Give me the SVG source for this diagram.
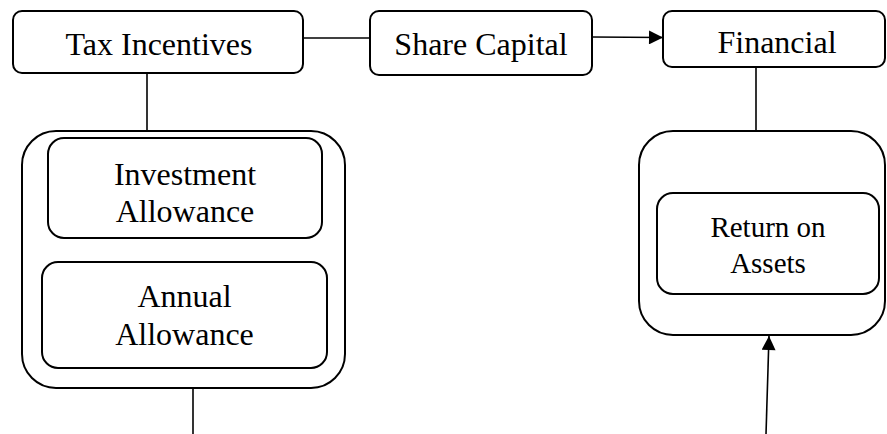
<svg xmlns="http://www.w3.org/2000/svg" width="887" height="434" viewBox="0 0 887 434">
<style>
.box{fill:#fff;stroke:#000;stroke-width:2}
.t{font-family:"Liberation Serif","Times New Roman",serif;font-size:32px;fill:#000;text-anchor:middle}
.s{font-size:29px}
.c{stroke:#000;stroke-width:1.6;fill:none}
</style>
<defs>
<marker id="ah2" viewBox="0 0 10 10" refX="10" refY="5" markerWidth="16" markerHeight="14" markerUnits="userSpaceOnUse" orient="auto">
<path d="M0,0 L10,5 L0,10 z" fill="#000"/>
</marker>
</defs>
<g id="connectors">
<line class="c" x1="303" y1="38" x2="370" y2="38"/>
<line class="c" x1="592" y1="37" x2="663" y2="37.5" marker-end="url(#ah2)"/>
<line class="c" x1="147" y1="73" x2="147" y2="131"/>
<line class="c" x1="756" y1="67" x2="756" y2="131"/>
<line class="c" x1="193" y1="388" x2="193" y2="434"/>
<line class="c" x1="766" y1="434" x2="769" y2="336" marker-end="url(#ah2)"/>
</g>
<g id="tax-incentives">
<rect class="box" x="13" y="11" width="290" height="62" rx="9"/>
<text class="t" x="159" y="55">Tax Incentives</text>
</g>
<g id="share-capital">
<rect class="box" x="370" y="11" width="222" height="64" rx="9"/>
<text class="t" x="481" y="55">Share Capital</text>
</g>
<g id="financial">
<rect class="box" x="663" y="11" width="222" height="56" rx="9"/>
<text class="t" x="777" y="53">Financial</text>
</g>
<g id="tax-group">
<rect class="box" x="22" y="131" width="323" height="257" rx="34"/>
</g>
<g id="investment-allowance">
<rect class="box" x="48" y="138" width="274" height="100" rx="16"/>
<text class="t" x="185" y="185">Investment</text>
<text class="t" x="185" y="222">Allowance</text>
</g>
<g id="annual-allowance">
<rect class="box" x="42" y="262" width="285" height="106" rx="16"/>
<text class="t" x="184.5" y="307">Annual</text>
<text class="t" x="184.5" y="345">Allowance</text>
</g>
<g id="financial-group">
<rect class="box" x="639" y="131" width="246" height="204" rx="34"/>
</g>
<g id="return-on-assets">
<rect class="box" x="657" y="193" width="222" height="101" rx="16"/>
<text class="t s" x="768" y="237">Return on</text>
<text class="t s" x="768" y="273">Assets</text>
</g>
</svg>
